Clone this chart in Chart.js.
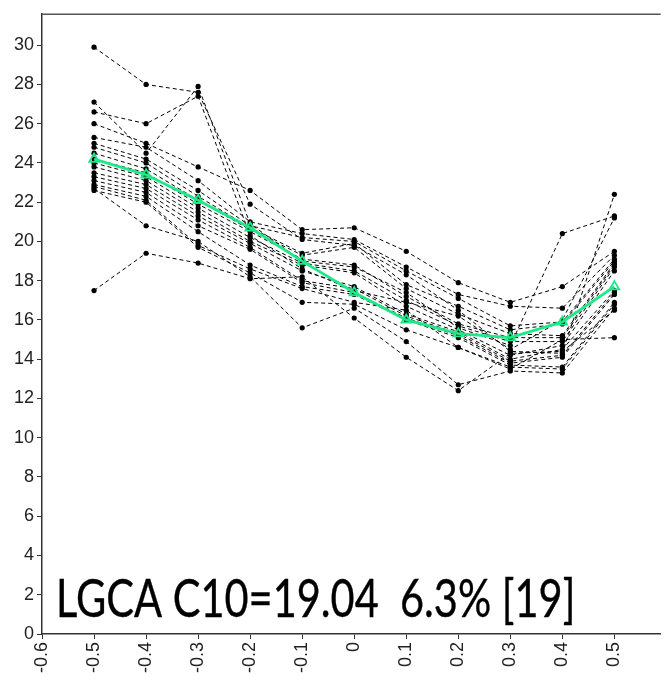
<!DOCTYPE html>
<html>
<head>
<meta charset="utf-8">
<script src="https://cdn.jsdelivr.net/npm/chart.js@4.4.1/dist/chart.umd.min.js"></script>
<style>
  html, body { margin: 0; padding: 0; background: #fff; }
  #wrap { width: 668px; height: 683px; }
</style>
</head>
<body>
<div id="wrap"><canvas id="lgcaChart" width="668" height="683"></canvas></div>
<script>
// positions along x where every subject was measured
var xValues = [-0.5, -0.4, -0.3, -0.2, -0.1, 0, 0.1, 0.2, 0.3, 0.4, 0.5];

// one row per subject (19 subjects)
var subjectValues = [
    [29.9, 28.0, 27.6, 21.9, 20.1, 19.8, 18.3, 16.5, 14.4, 14.3, 22.4],
    [27.1, 24.5, 27.9, 20.9, 19.0, 18.7, 17.4, 15.6, 14.7, 20.4, 21.3],
    [26.6, 26.0, 27.4, 20.3, 18.6, 17.5, 16.9, 16.2, 14.5, 16.0, 21.2],
    [26.0, 25.0, 23.8, 22.6, 20.6, 20.7, 19.5, 17.9, 16.9, 17.7, 19.5],
    [25.3, 24.8, 23.1, 21.0, 20.4, 20.1, 18.7, 17.3, 16.7, 16.6, 19.3],
    [25.0, 24.2, 22.6, 20.8, 20.2, 20.0, 18.5, 17.1, 15.7, 15.9, 19.1],
    [24.8, 24.0, 22.3, 20.7, 19.4, 19.9, 17.8, 16.7, 15.5, 15.8, 19.0],
    [24.5, 23.7, 22.1, 20.6, 19.3, 19.7, 17.6, 16.3, 15.3, 15.2, 18.9],
    [24.2, 23.5, 21.9, 20.5, 19.1, 18.8, 17.2, 15.8, 15.1, 15.1, 18.8],
    [24.0, 23.3, 21.7, 20.2, 18.9, 18.5, 17.0, 15.7, 14.9, 14.9, 18.7],
    [23.8, 23.1, 21.5, 20.0, 18.8, 18.4, 16.7, 15.5, 14.2, 14.7, 18.5],
    [23.5, 22.9, 21.3, 19.9, 18.5, 17.7, 16.3, 15.4, 14.0, 14.5, 17.5],
    [23.3, 22.7, 21.1, 19.7, 18.0, 17.6, 16.2, 15.3, 13.9, 14.2, 17.4],
    [23.1, 22.5, 20.8, 19.6, 17.9, 17.4, 16.1, 15.2, 13.8, 14.1, 17.3],
    [22.9, 22.3, 20.5, 18.8, 17.7, 17.3, 16.0, 15.1, 13.7, 13.6, 16.9],
    [22.8, 22.1, 19.8, 18.6, 17.6, 16.9, 16.5, 14.6, 13.6, 13.5, 16.8],
    [22.6, 22.0, 19.7, 18.4, 16.9, 16.8, 15.5, 14.6, 13.5, 15.0, 15.1],
    [22.7, 20.8, 20.0, 18.2, 15.6, 16.6, 14.9, 12.7, 13.4, 13.3, 16.6],
    [17.5, 19.4, 18.9, 18.1, 18.2, 16.1, 14.1, 12.4, 14.3, 14.4, 16.5]
];

// group mean curve
var meanValues = [24.2, 23.4, 22.1, 20.7, 19.0, 17.4, 16.0, 15.3, 15.1, 15.9, 17.7];

var xTicks = [-0.6, -0.5, -0.4, -0.3, -0.2, -0.1, 0, 0.1, 0.2, 0.3, 0.4, 0.5];
var yTicks = [0, 2, 4, 6, 8, 10, 12, 14, 16, 18, 20, 22, 24, 26, 28, 30];

var caption = 'LGCA C10=19.04  6.3% [19]';

function toPoints(values) {
    return values.map(function (v, i) { return { x: xValues[i], y: v }; });
}

var datasets = [{
    label: 'mean',
    data: toPoints(meanValues),
    borderColor: '#1ee888',
    borderWidth: 2.8,
    pointStyle: 'triangle',
    pointRadius: 5.5,
    pointBorderWidth: 1.8,
    pointBorderColor: '#1ee888',
    pointBackgroundColor: 'rgba(0,0,0,0)',
    tension: 0,
    order: 0
}];

subjectValues.forEach(function (row, i) {
    datasets.push({
        label: 'subject ' + (i + 1),
        data: toPoints(row),
        borderColor: '#000',
        borderWidth: 1,
        borderDash: [4, 3],
        pointRadius: 2.6,
        pointBorderWidth: 0,
        pointBackgroundColor: '#000',
        tension: 0,
        order: 1
    });
});

// top frame line and the big caption inside the plot
var framePlugin = {
    id: 'frameAndCaption',
    afterDraw: function (chart) {
        var c = chart.ctx;
        var area = chart.chartArea;
        c.save();
        c.strokeStyle = '#555';
        c.lineWidth = 1.5;
        c.beginPath();
        c.moveTo(area.left, area.top + 0.5);
        c.lineTo(area.right, area.top + 0.5);
        c.stroke();

        var sx = chart.scales.x, sy = chart.scales.y;
        var left = sx.getPixelForValue(-0.573);
        var right = sx.getPixelForValue(0.425);
        c.fillStyle = '#000';
        c.strokeStyle = '#000';
        c.lineWidth = 0.4;
        c.font = '52px Lato, "Open Sans", sans-serif';
        c.textBaseline = 'alphabetic';
        c.textAlign = 'left';
        // squeeze the caption so it spans the same width as the tall narrow original
        var w = c.measureText(caption).width;
        c.translate(left, sy.getPixelForValue(0.85));
        c.scale((right - left) / w, 1);
        c.fillText(caption, 0, 0);
        c.strokeText(caption, 0, 0);
        c.restore();
    }
};

var tickFont = { family: '"Liberation Sans", Arial, sans-serif', size: 18 };

var ctx = document.getElementById('lgcaChart').getContext('2d');
var lgcaChart = new Chart(ctx, {
    type: 'line',
    data: { datasets: datasets },
    options: {
        responsive: false,
        animation: false,
        layout: { padding: { left: 0, right: 0, top: 13, bottom: 0 } },
        plugins: {
            legend: { display: false },
            tooltip: { enabled: false }
        },
        scales: {
            x: {
                type: 'linear',
                min: -0.6,
                max: 0.589,
                afterBuildTicks: function (axis) {
                    axis.ticks = xTicks.map(function (v) { return { value: v }; });
                },
                afterFit: function (axis) { axis.height = 49; },
                grid: { drawOnChartArea: false, drawTicks: true, tickLength: 5, color: '#333', lineWidth: 1 },
                border: { display: true, color: '#333', width: 1.5 },
                ticks: {
                    autoSkip: false,
                    minRotation: 90,
                    maxRotation: 90,
                    padding: 3,
                    color: '#222',
                    font: tickFont,
                    callback: function (v) {
                        var r = Math.round(v * 10) / 10;
                        return r === 0 ? '0' : String(r);
                    }
                }
            },
            y: {
                min: 0,
                max: 31.6,
                afterBuildTicks: function (axis) {
                    axis.ticks = yTicks.map(function (v) { return { value: v }; });
                },
                afterFit: function (axis) { axis.width = 42; },
                grid: { drawOnChartArea: false, drawTicks: true, tickLength: 5, color: '#333', lineWidth: 1 },
                border: { display: true, color: '#333', width: 1.5 },
                ticks: {
                    autoSkip: false,
                    padding: 3,
                    color: '#222',
                    font: tickFont
                }
            }
        }
    },
    plugins: [framePlugin]
});
</script>
</body>
</html>
